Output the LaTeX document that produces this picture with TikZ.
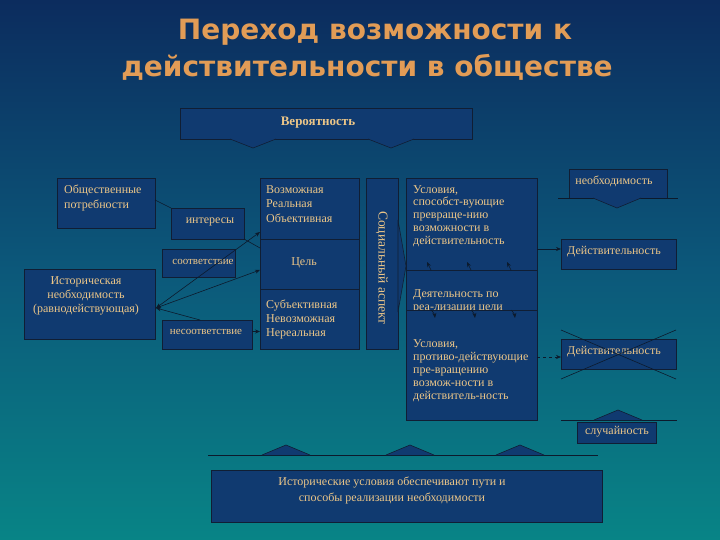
\documentclass[tikz,border=0pt]{standalone}
\usepackage{fontspec}
\setmainfont{Liberation Serif}
\newfontfamily\titlefont{DejaVu Sans}
\usetikzlibrary{arrows.meta}
\definecolor{bgtop}{RGB}{12,44,94}
\definecolor{bgmid}{RGB}{12,88,122}
\definecolor{bgbot}{RGB}{8,132,134}
\definecolor{boxfill}{RGB}{16,58,112}
\definecolor{boxline}{RGB}{16,30,52}
\definecolor{txtc}{RGB}{236,198,136}
\definecolor{titc}{RGB}{226,156,86}
\definecolor{linec}{RGB}{12,26,44}
\begin{document}
\begin{tikzpicture}[x=1pt,y=-1pt,
  box/.style={draw=boxline, fill=boxfill, line width=0.8pt, inner sep=0pt, outer sep=0pt, anchor=north west},
  txt/.style={text=txtc, font=\fontsize{12}{13}\selectfont, inner sep=0pt, align=left},
  ttl/.style={text=titc, font=\titlefont\bfseries\fontsize{28}{30}\selectfont, inner sep=0pt, anchor=base},
  conn/.style={draw=linec, line width=0.6pt},
  tip/.style={-{Stealth[length=5pt,width=4pt]}},
  chev/.style={draw=boxline, fill=boxfill, line width=0.6pt},
  bar/.style={draw=linec, line width=0.8pt}]
\useasboundingbox (0,0) rectangle (720,540);
\shade[top color=bgtop, bottom color=bgbot, middle color=bgmid] (0,0) rectangle (720,540);

% title
\node[ttl] (t1) at (375,40) {Переход возможности к};
\node[ttl] (t2) at (367,77) {действительности в обществе};

% Вероятность
\node[box, minimum width=292pt, minimum height=31pt] (ver) at (180,108) {};
\node[txt, font=\bfseries\fontsize{13}{14}\selectfont] (tver) at (318,123) {Вероятность};
\draw[chev] (230,139) -- (253,148) -- (276,139);
\draw[chev] (368,139) -- (391,148) -- (414,139);

% left boxes
\node[box, minimum width=98pt, minimum height=50pt] (ob) at (57,178) {};
\node[txt, anchor=north west, font=\fontsize{12}{15}\selectfont] (tob) at (64,185) {Общественные\\потребности};
\node[box, minimum width=73pt, minimum height=31pt] (int) at (171,208) {};
\node[txt] (tint) at (210,222) {интересы};
\node[box, minimum width=73pt, minimum height=28pt] (sootv) at (162,249) {};
\node[txt, font=\fontsize{11}{13}\selectfont] (tsootv) at (203,262) {соответствие};
\node[box, minimum width=131pt, minimum height=70pt] (ist) at (24,269) {};
\node[txt, align=center, font=\fontsize{12}{14}\selectfont] (tist) at (86,296) {Историческая\\необходимость\\(равнодействующая)};
\node[box, minimum width=90pt, minimum height=29pt] (nesoot) at (162,320) {};
\node[txt, font=\fontsize{11}{13}\selectfont] (tnesoot) at (206,332) {несоответствие};

% Цель column
\node[box, minimum width=99pt, minimum height=61pt] (cel1) at (260,178) {};
\node[txt, anchor=north west, font=\fontsize{12}{14.5}\selectfont] (tcel1) at (266,185) {Возможная\\Реальная\\Объективная};
\node[box, minimum width=99pt, minimum height=50pt] (cel2) at (260,239) {};
\node[txt] (tcel2) at (304,263) {Цель};
\node[box, minimum width=99pt, minimum height=60pt] (cel3) at (260,289) {};
\node[txt, anchor=north west, font=\fontsize{12}{14}\selectfont] (tcel3) at (266,300) {Субъективная\\Невозможная\\Нереальная};

% Социальный аспект
\node[box, minimum width=32pt, minimum height=171pt] (soc) at (366,178) {};
\node[txt, rotate=-90, font=\fontsize{13.5}{14}\selectfont] (tsoc) at (382,268) {Социальный аспект};

% Условия column
\node[box, minimum width=131pt, minimum height=92pt] (usl1) at (406,178) {};
\node[txt, anchor=north west, font=\fontsize{12}{12.8}\selectfont] (tusl1) at (413,185) {Условия,\\способст-вующие\\превраще-нию\\возможности в\\действительность};
\node[box, minimum width=131pt, minimum height=40pt] (usl2) at (406,270) {};
\node[txt, anchor=north west, font=\fontsize{12}{13}\selectfont] (tusl2) at (413,289) {Деятельность по\\реа-лизации цели};
\node[box, minimum width=131pt, minimum height=110pt] (usl3) at (406,310) {};
\node[txt, anchor=north west, font=\fontsize{12}{13}\selectfont] (tusl3) at (413,339) {Условия,\\противо-действующие\\пре-вращению\\возмож-ности в\\действитель-ность};
\draw[chev] (398,220) -- (406,266) -- (398,312) -- cycle;

% small arrows inside Условия
\foreach \dx in {25,65,105}{
  \draw[conn, tip] ([xshift=\dx pt]usl2.north west) -- ++(-4,-8);
  \draw[conn, tip] ([xshift=\dx pt]usl3.north west) to[bend left=20] ++(4,8);
}

% right side
\node[box, minimum width=98pt, minimum height=29pt] (neob) at (569,169) {};
\node[txt] (tneob) at (614,181) {необходимость};
\draw[bar] (558,198) -- (678,198);
\draw[chev] (593,198) -- (617,208) -- (641,198);
\node[box, minimum width=115pt, minimum height=30pt] (dey1) at (561,239) {};
\node[txt] (tdey1) at (614,252) {Действительность};
\node[box, minimum width=115pt, minimum height=30pt] (dey2) at (561,339) {};
\node[txt] (tdey2) at (614,352) {Действительность};
\draw[conn] ([yshift=9pt]dey2.north west) -- ([yshift=-10pt]dey2.south east);
\draw[conn] ([yshift=-10pt]dey2.south west) -- ([yshift=9pt]dey2.north east);
\draw[bar] (561,420) -- (677,420);
\draw[chev] (594,420) -- (618,410) -- (642,420);
\node[box, minimum width=79pt, minimum height=21pt] (sluch) at (577,422) {};
\node[txt] (tsluch) at (617,432) {случайность};

% bottom
\draw[bar] (208,455) -- (598,455);
\draw[chev] (262,455) -- (286,445) -- (310,455);
\draw[chev] (386,455) -- (410,445) -- (434,455);
\draw[chev] (496,455) -- (520,445) -- (544,455);
\node[box, minimum width=391pt, minimum height=52pt] (bot) at (211,470) {};
\node[txt, align=center, font=\fontsize{12}{16}\selectfont] (tbot) at (392,490) {Исторические условия обеспечивают пути и\\способы реализации необходимости};

% connectors
\coordinate (hub) at (156,308);
\draw[conn] ([yshift=3pt]ob.east) -- (int.north west);
\draw[conn] (int.south east) -- ([yshift=-9pt]cel2.north west);
\draw[conn, {Stealth[length=5pt,width=4pt]}-{Stealth[length=5pt,width=4pt]}] (hub) -- ([yshift=7pt]cel1.south west);
\draw[conn, {Stealth[length=5pt,width=4pt]}-{Stealth[length=5pt,width=4pt]}] (hub) -- ([yshift=-6pt]cel2.west);
\draw[conn, {Stealth[length=5pt,width=4pt]}-] (hub) -- ([xshift=-7pt]nesoot.north);
\draw[conn, tip] ([yshift=3pt]nesoot.east) -- ([yshift=3pt]nesoot.east -| cel3.west);
\draw[conn, tip] ([yshift=5pt]usl1.east |- dey1.west) -- ([yshift=5pt]dey1.west);
\draw[conn, tip, dashed] ([yshift=-3pt]usl3.east |- dey2.west) -- ([yshift=-3pt]dey2.west);
\end{tikzpicture}
\end{document}
